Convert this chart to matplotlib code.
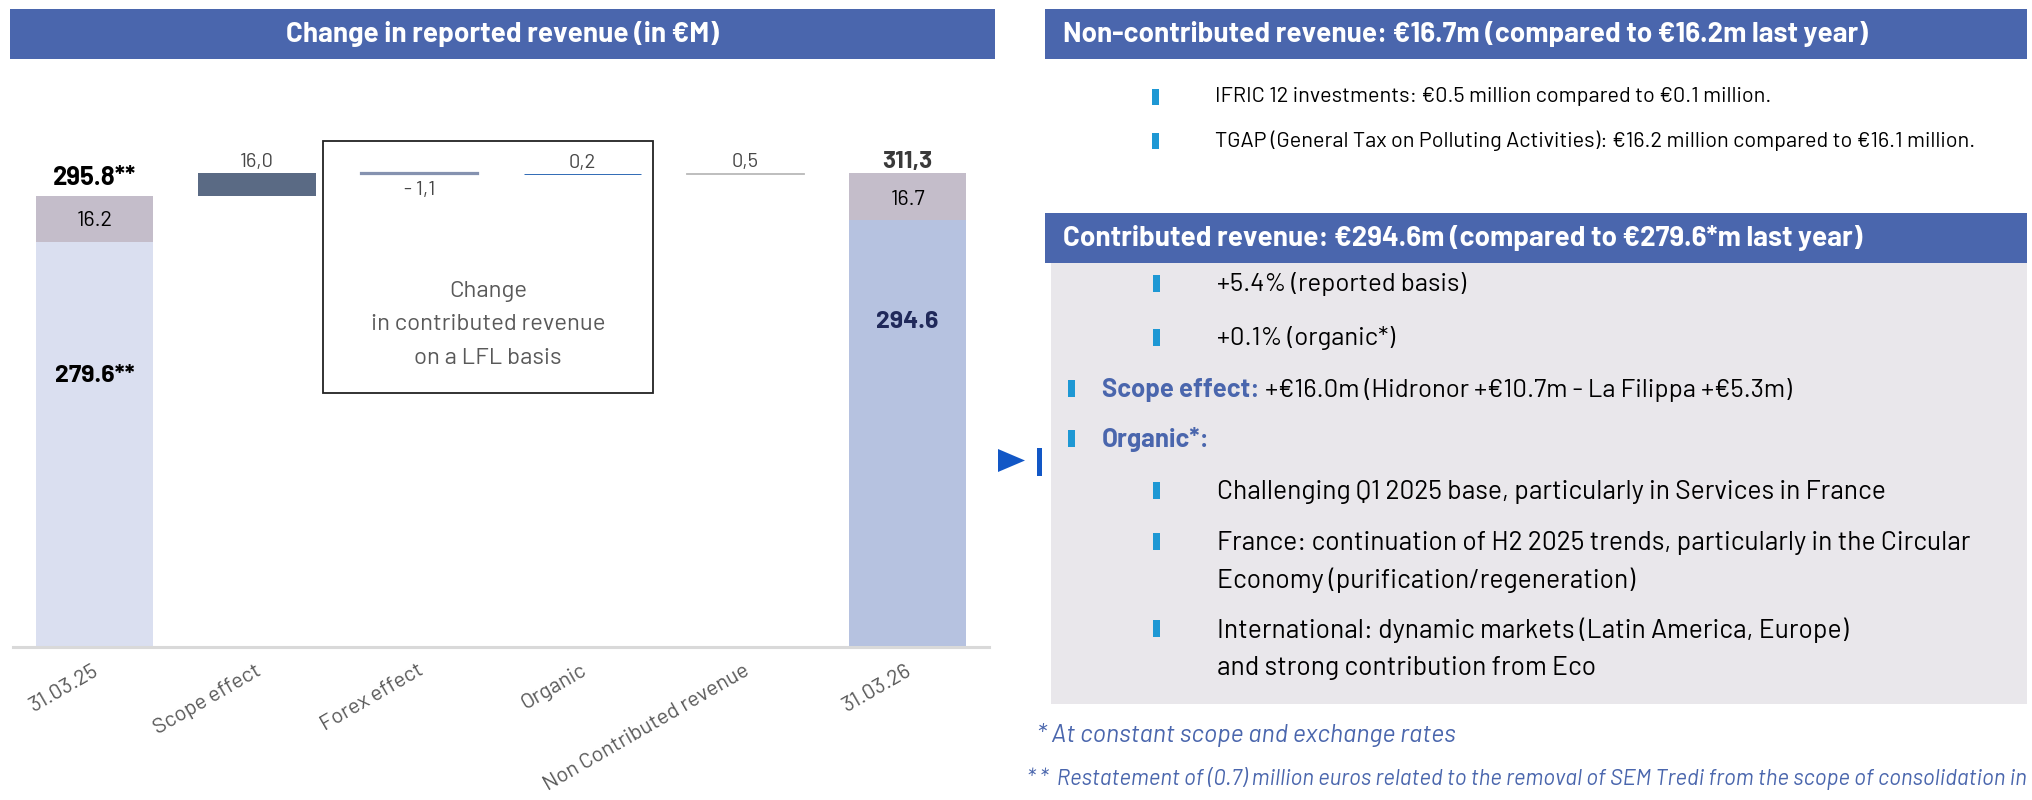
import matplotlib
matplotlib.use("Agg")
import matplotlib.pyplot as plt
import numpy as np
from matplotlib.patches import Rectangle, Polygon
from matplotlib.transforms import ScaledTranslation
import logging
logging.getLogger("matplotlib.font_manager").setLevel(logging.ERROR)

FONT = ['Barlow', 'Roboto', 'DejaVu Sans']

# ---------------- data ----------------
categories = ["31.03.25", "Scope effect", "Forex effect", "Organic",
              "Non Contributed revenue", "31.03.26"]
start_contrib = 279.6
start_noncontrib = 16.2
start_total_label = "295.8**"
start_contrib_label = "279.6**"
start_noncontrib_label = "16.2"
delta_values = [16.0, -1.1, 0.2, 0.5]
delta_labels = ["16,0", "- 1,1", "0,2", "0,5"]
end_contrib = 294.6
end_noncontrib = 16.7
end_total_label = "311,3"
end_contrib_label = "294.6"
end_noncontrib_label = "16.7"

chart_title = "Change in reported revenue (in €M)"
box_lines = ["Change", "in contributed revenue", "on a LFL basis"]
noncontrib_title = "Non-contributed revenue: €16.7m (compared to €16.2m last year)"
noncontrib_items = ["IFRIC 12 investments: €0.5 million compared to €0.1 million.",
                    "TGAP (General Tax on Polluting Activities): €16.2 million compared to €16.1 million."]
contrib_title = "Contributed revenue: €294.6m (compared to €279.6*m last year)"
contrib_items = ["+5.4% (reported basis)", "+0.1% (organic*)"]
scope_head = "Scope effect:"
scope_text = " +€16.0m (Hidronor +€10.7m - La Filippa +€5.3m)"
organic_head = "Organic*:"
organic_items = [["Challenging Q1 2025 base, particularly in Services in France"],
                 ["France: continuation of H2 2025 trends, particularly in the Circular",
                  "Economy (purification/regeneration)"],
                 ["International: dynamic markets (Latin America, Europe)",
                  "and strong contribution from Eco"]]
footnote1 = "* At constant scope and exchange rates"
footnote2 = "* *  Restatement of (0.7) million euros related to the removal of SEM Tredi from the scope of consolidation in"

# ---------------- style ----------------
BLUE = "#4A66AD"
C_START = "#DADFF0"
C_END = "#B6C2E0"
C_NC = "#C4BDCA"
C_DELTA = ["#5A6A84", "#8592B0", "#2F6AB5", "#BFBFBF"]
LW_DELTA = [0, 1.6, 0.7, 0.7]
C_BULLET = "#1E98D4"
GRAY_TXT = "#474747"
NC_SCALE = 1.95  # visual exaggeration of the non-contributed slice, as in the slide

W, H = 2033, 800
fig = plt.figure(figsize=(W / 100, H / 100), dpi=100)

# overlay in pixel coordinates
ov = fig.add_axes([0, 0, 1, 1], zorder=0)
ov.set_xlim(0, W)
ov.set_ylim(H, 0)
ov.axis("off")

# chart axes
base_px, top_px = 647, 60
px_per_unit = 1.45
ax = fig.add_axes([13 / W, (H - base_px) / H, (989 - 13) / W, (base_px - top_px) / H], zorder=1)
ax.set_facecolor("none")
ax.set_xlim(-0.5, 5.5)
ax.set_ylim(0, (base_px - top_px) / px_per_unit)
for s in ["top", "right", "left"]:
    ax.spines[s].set_visible(False)
ax.spines["bottom"].set_color("#D9D9D9")
ax.spines["bottom"].set_linewidth(2.2)
ax.set_yticks([])
bw = 0.72
x = np.arange(len(categories))

# start bar
ax.bar(x[0], start_contrib, width=bw, color=C_START, zorder=2)
ax.bar(x[0], start_noncontrib * NC_SCALE, bottom=start_contrib, width=bw, color=C_NC, zorder=2)
start_top = start_contrib + start_noncontrib * NC_SCALE

# deltas
level = start_top
delta_tops = []
for i, d in enumerate(delta_values):
    ax.bar(x[i + 1], d, bottom=level, width=bw, color=C_DELTA[i],
           edgecolor=C_DELTA[i], linewidth=LW_DELTA[i], zorder=2)
    delta_tops.append((level, level + d))
    level += d

# end bar
ax.bar(x[5], end_contrib, width=bw, color=C_END, zorder=2)
ax.bar(x[5], end_noncontrib * NC_SCALE, bottom=end_contrib, width=bw, color=C_NC, zorder=2)
end_top = end_contrib + end_noncontrib * NC_SCALE

def lab(txt, xv, yv, dy, size, color, weight="normal"):
    ax.annotate(txt, xy=(xv, yv), xytext=(0, dy), textcoords="offset pixels",
                ha="center", va="center", fontsize=size, color=color,
                fontweight=weight, family=FONT, zorder=3)

lab(start_total_label, x[0], start_top, 18, 18.5, "black", "bold")
lab(start_noncontrib_label, x[0], start_contrib + start_noncontrib * NC_SCALE / 2, -2, 15.5, "black")
lab(start_contrib_label, x[0], start_contrib * 0.668, 0, 18, "black", "bold")
for i, (lo, hi) in enumerate(delta_tops):
    if delta_values[i] >= 0:
        lab(delta_labels[i], x[i + 1], hi, 11, 14.5, GRAY_TXT)
    else:
        lab(delta_labels[i], x[i + 1], hi, -16, 14.5, GRAY_TXT)
lab(end_total_label, x[5], end_top, 11, 17.5, "#3A3A3A", "bold")
lab(end_noncontrib_label, x[5], end_contrib + end_noncontrib * NC_SCALE / 2, -3, 15.5, "black")
lab(end_contrib_label, x[5], end_contrib * 0.76, 0, 18, "#20295A", "bold")

ax.set_xticks(x)
ax.set_xticklabels(categories, rotation=30, ha="right", rotation_mode="anchor",
                   fontsize=15.5, color="#595959", family=FONT)
ax.tick_params(axis="x", length=0, pad=10)
for t in ax.get_xticklabels():
    t.set_transform(t.get_transform() + ScaledTranslation(-2 / 100, 0, fig.dpi_scale_trans))

# ---------------- overlay shapes ----------------
def rect(x0, y0, x1, y1, color, **kw):
    ov.add_patch(Rectangle((x0, y0), x1 - x0, y1 - y0, facecolor=color, edgecolor="none", **kw))

# left banner
rect(10, 9, 995, 59, BLUE)
ov.text(502, 34, chart_title, ha="center", va="center", color="white",
        fontsize=20, fontweight="bold", family=FONT)

# LFL box
ov.add_patch(Rectangle((323, 141), 330, 252, facecolor="white", edgecolor="#222222", linewidth=1.3, zorder=0.5))
for yy, line in zip([292, 325, 358], box_lines):
    ov.text(488, yy, line, ha="center", va="center", color="#595959", fontsize=17.2, family=FONT)

# right banners
rect(1045, 9, 2027, 59, BLUE)
ov.text(1063, 34, noncontrib_title, ha="left", va="center", color="white",
        fontsize=20, fontweight="bold", family=FONT)
for yy, item in zip([97, 141], noncontrib_items):
    rect(1152, yy - 8, 1159, yy + 8, C_BULLET)
    ov.text(1215, yy, item, ha="left", va="center", color="black", fontsize=15.6, family=FONT)

rect(1051, 263, 2027, 704, "#E9E7EB")
rect(1045, 213, 2027, 263, BLUE)
ov.text(1063, 238, contrib_title, ha="left", va="center", color="white",
        fontsize=20, fontweight="bold", family=FONT)

for yy, item in zip([284, 338], contrib_items):
    rect(1153, yy - 9, 1160, yy + 8, C_BULLET)
    ov.text(1217, yy, item, ha="left", va="center", color="black", fontsize=18.5, family=FONT)

rect(1068, 380, 1075, 397, C_BULLET)
t1 = ov.text(1102, 390, scope_head, ha="left", va="center", color=BLUE,
             fontsize=18.5, fontweight="bold", family=FONT)
ov.annotate(scope_text, xy=(1, 0), xycoords=t1, ha="left", va="bottom",
            color="black", fontsize=18.5, family=FONT)
rect(1068, 430, 1075, 447, C_BULLET)
ov.text(1102, 440, organic_head, ha="left", va="center", color=BLUE,
        fontsize=18.5, fontweight="bold", family=FONT)

org_y = [[492], [543, 580], [630, 668]]
for ys, lines in zip(org_y, organic_items):
    rect(1153, ys[0] - 10, 1160, ys[0] + 7, C_BULLET)
    for yy, line in zip(ys, lines):
        ov.text(1217, yy, line, ha="left", va="center", color="black", fontsize=19, family=FONT)

# arrow marker
ov.add_patch(Polygon([(998, 449), (998, 472), (1025, 460.5)], closed=True, facecolor="#1257C6", edgecolor="none"))
rect(1037, 448, 1042, 476, "#1257C6")

# footnotes
ov.text(1037, 735, footnote1, ha="left", va="center", color=BLUE, fontsize=18,
        style="italic", family=FONT)
ov.text(1027, 778, footnote2, ha="left", va="center", color=BLUE, fontsize=16,
        style="italic", family=FONT)

fig.savefig("out.png", dpi=100, facecolor="white")
